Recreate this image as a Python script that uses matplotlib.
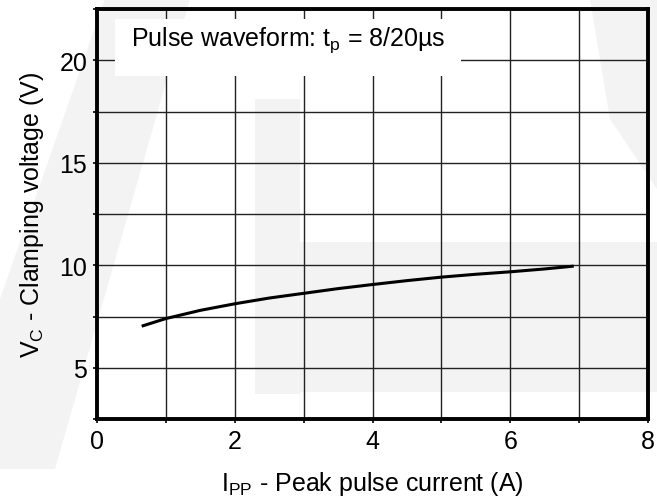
import matplotlib
matplotlib.use('Agg')
import matplotlib.pyplot as plt
from matplotlib.patches import Polygon, Rectangle
import numpy as np

plt.rcParams['font.family'] = ['Liberation Sans Narrow', 'Liberation Sans', 'DejaVu Sans']
plt.rcParams['mathtext.default'] = 'regular'

# Curve
ipp = [0.67, 1.0, 1.5, 2.0, 2.5, 3.0, 3.5, 4.0, 4.5, 5.0, 5.5, 6.0, 6.5, 6.9]
vc = [7.05, 7.40, 7.80, 8.12, 8.40, 8.63, 8.86, 9.06, 9.25, 9.42, 9.56, 9.68, 9.82, 9.95]

x_ticks = [0, 2, 4, 6, 8]
y_ticks = [5, 10, 15, 20]

fig = plt.figure(figsize=(6.57, 5.02), dpi=100)
W, H = 657, 502

# faint watermark behind the chart (pixel coords -> figure fraction)
wm = '#f3f3f3'
shapes = [
    [(105, 0), (190, 0), (55, 470), (0, 470), (0, 300)],
    [(255, 100), (300, 100), (300, 395), (255, 395)],
    [(255, 243), (657, 243), (657, 393), (255, 393)],
    [(590, 0), (657, 0), (657, 190), (610, 120)],
]
for pts in shapes:
    fig.patches.append(Polygon([(x / W, 1 - y / H) for x, y in pts], closed=True,
                               transform=fig.transFigure, facecolor=wm,
                               edgecolor='none', zorder=-5))

ax = fig.add_axes([97 / W, 1 - 420 / H, (648 - 97) / W, (420 - 10) / H])
ax.set_facecolor('none')
ax.set_axisbelow(True)

ax.set_xlim(0, 8)
ax.set_ylim(2.5, 22.5)
ax.set_xticks(x_ticks)
ax.set_yticks(y_ticks)
ax.set_xticks(np.arange(1, 8, 2), minor=True)
ax.set_yticks(np.arange(2.5, 22.6, 5), minor=True)
ax.grid(which='both', color='#222222', linewidth=1.0)
ax.tick_params(which='both', direction='out', length=3, width=1.2, labelsize=18)
ax.tick_params(which='major', pad=4)

for s in ax.spines.values():
    s.set_linewidth(2.8)
    s.set_zorder(5)

# white box behind the annotation
ax.add_patch(Rectangle((115 / W, 1 - 77 / H), (461 - 115) / W, (77 - 20) / H,
                       transform=fig.transFigure, facecolor='white',
                       edgecolor='none', zorder=2))
ax.text(288 / W, 1 - 40 / H, r'Pulse waveform: t$_\mathregular{p}$ = 8/20µs',
        transform=fig.transFigure, ha='center', va='center', fontsize=18, zorder=3)

ax.plot(ipp, vc, color='black', linewidth=2.2, zorder=4)

ax.set_xlabel(r'I$_\mathregular{PP}$ - Peak pulse current (A)', fontsize=18, labelpad=12)
ax.set_ylabel(r'V$_\mathregular{C}$ - Clamping voltage (V)', fontsize=18, labelpad=10)

fig.savefig('out.png', dpi=100)
